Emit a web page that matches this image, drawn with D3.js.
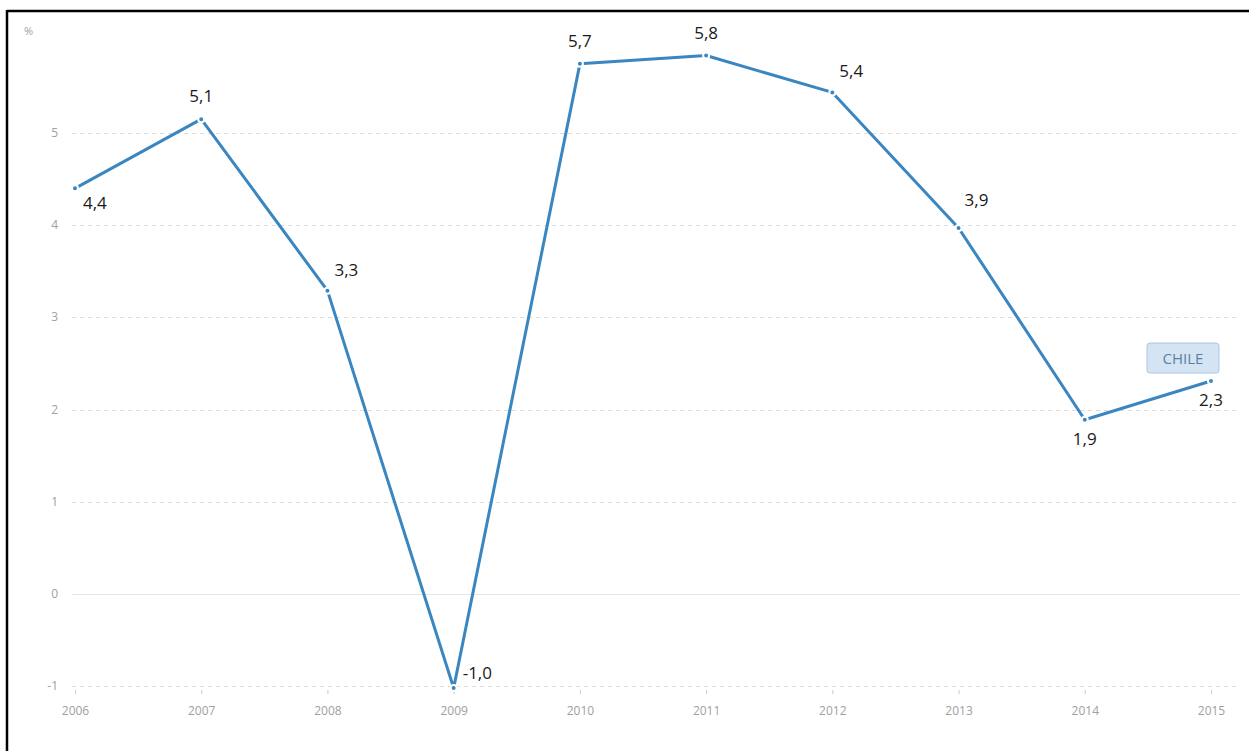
<!DOCTYPE html>
<html>
<head>
<meta charset="utf-8">
<script src="https://cdn.jsdelivr.net/npm/d3@7"></script>
<style>
  body { margin: 0; background: #fff; }
  svg { display: block; }
</style>
</head>
<body>
<div id="chart"></div>
<script>
// data
var years = [2006, 2007, 2008, 2009, 2010, 2011, 2012, 2013, 2014, 2015];
var growth = [4.40, 5.15, 3.29, -1.02, 5.75, 5.84, 5.44, 3.97, 1.89, 2.31];
var valueLabels = ["4,4", "5,1", "3,3", "-1,0", "5,7", "5,8", "5,4", "3,9", "1,9", "2,3"];
var labelSide = ["belowRight", "above", "aboveRight", "right", "above", "above", "aboveRight", "aboveRightHigh", "below", "below"];
var yTicks = [-1, 0, 1, 2, 3, 4, 5];
var seriesName = "CHILE";

var width = 1249, height = 751;

var svg = d3.select("#chart").append("svg")
    .attr("width", width)
    .attr("height", height);

// frame (top + left only)
svg.append("line").attr("x1", 7).attr("x2", width).attr("y1", 11).attr("y2", 11)
    .attr("stroke", "#000").attr("stroke-width", 2.5);
svg.append("line").attr("x1", 7).attr("x2", 7).attr("y1", 10).attr("y2", height)
    .attr("stroke", "#000").attr("stroke-width", 2.5);

var x = d3.scalePoint().domain(years).range([75, 1211]);
var y = d3.scaleLinear().domain([0, 5]).range([594, 133]);

// grid
svg.append("g").selectAll("line").data(yTicks).join("line")
    .attr("x1", 72).attr("x2", 1240)
    .attr("y1", d => Math.round(y(d)) + 0.5).attr("y2", d => Math.round(y(d)) + 0.5)
    .attr("stroke", d => d === 0 ? "#e6e6e6" : "#dcdcdc")
    .attr("stroke-dasharray", d => d === 0 ? null : "4,4");

// y labels
svg.append("g").selectAll("text").data(yTicks).join("text")
    .attr("x", 58).attr("y", d => y(d) + 4)
    .attr("text-anchor", "end")
    .attr("font-family", "'Open Sans', sans-serif").attr("font-size", 12)
    .attr("fill", "#a0a0a0")
    .text(d => d);

svg.append("text").attr("x", 24).attr("y", 35)
    .attr("font-family", "'Open Sans', sans-serif").attr("font-size", 11)
    .attr("fill", "#a0a0a0").text("%");

// x axis
var xAxis = d3.axisBottom(x).tickSize(4).tickPadding(12);
var gx = svg.append("g").attr("transform", "translate(0," + (y(-1) + 4) + ")").call(xAxis);
gx.select(".domain").remove();
gx.selectAll(".tick line").attr("stroke", "#c8c8c8");
gx.selectAll(".tick text")
    .attr("font-family", "'Open Sans', sans-serif").attr("font-size", 12)
    .attr("fill", "#a0a0a0");

// line
var line = d3.line().x((d, i) => x(years[i])).y(d => y(d));
svg.append("path").datum(growth)
    .attr("d", line)
    .attr("fill", "none")
    .attr("stroke", "#3a86c1")
    .attr("stroke-width", 3)
    .attr("stroke-linejoin", "round");

// markers
svg.append("g").selectAll("circle").data(growth).join("circle")
    .attr("cx", (d, i) => x(years[i]))
    .attr("cy", d => y(d))
    .attr("r", 3)
    .attr("fill", "#3a86c1")
    .attr("stroke", "#fff")
    .attr("stroke-width", 2);

// value labels
var offsets = {
    above: [0, -17, "middle"],
    below: [0, 25, "middle"],
    aboveRight: [7, -15, "start"],
    aboveRightHigh: [6, -22, "start"],
    belowRight: [8, 21, "start"],
    right: [9, -9, "start"]
};
svg.append("g").selectAll("text").data(growth).join("text")
    .attr("x", (d, i) => x(years[i]) + offsets[labelSide[i]][0])
    .attr("y", (d, i) => y(d) + offsets[labelSide[i]][1])
    .attr("text-anchor", (d, i) => offsets[labelSide[i]][2])
    .attr("font-family", "'Open Sans', sans-serif").attr("font-size", 17)
    .attr("fill", "#1a1a1a")
    .text((d, i) => valueLabels[i]);

// series tag
var last = growth.length - 1;
var tx = x(years[last]) - 64, ty = y(growth[last]) - 38;
svg.append("rect")
    .attr("x", tx).attr("y", ty)
    .attr("width", 72).attr("height", 30)
    .attr("rx", 3)
    .attr("fill", "#d4e4f2")
    .attr("stroke", "#a8c8e6");
svg.append("text")
    .attr("x", tx + 36).attr("y", ty + 20.5)
    .attr("text-anchor", "middle")
    .attr("font-family", "'Open Sans', sans-serif").attr("font-size", 15)
    .attr("fill", "#5b7fa6")
    .text(seriesName);
</script>
</body>
</html>
